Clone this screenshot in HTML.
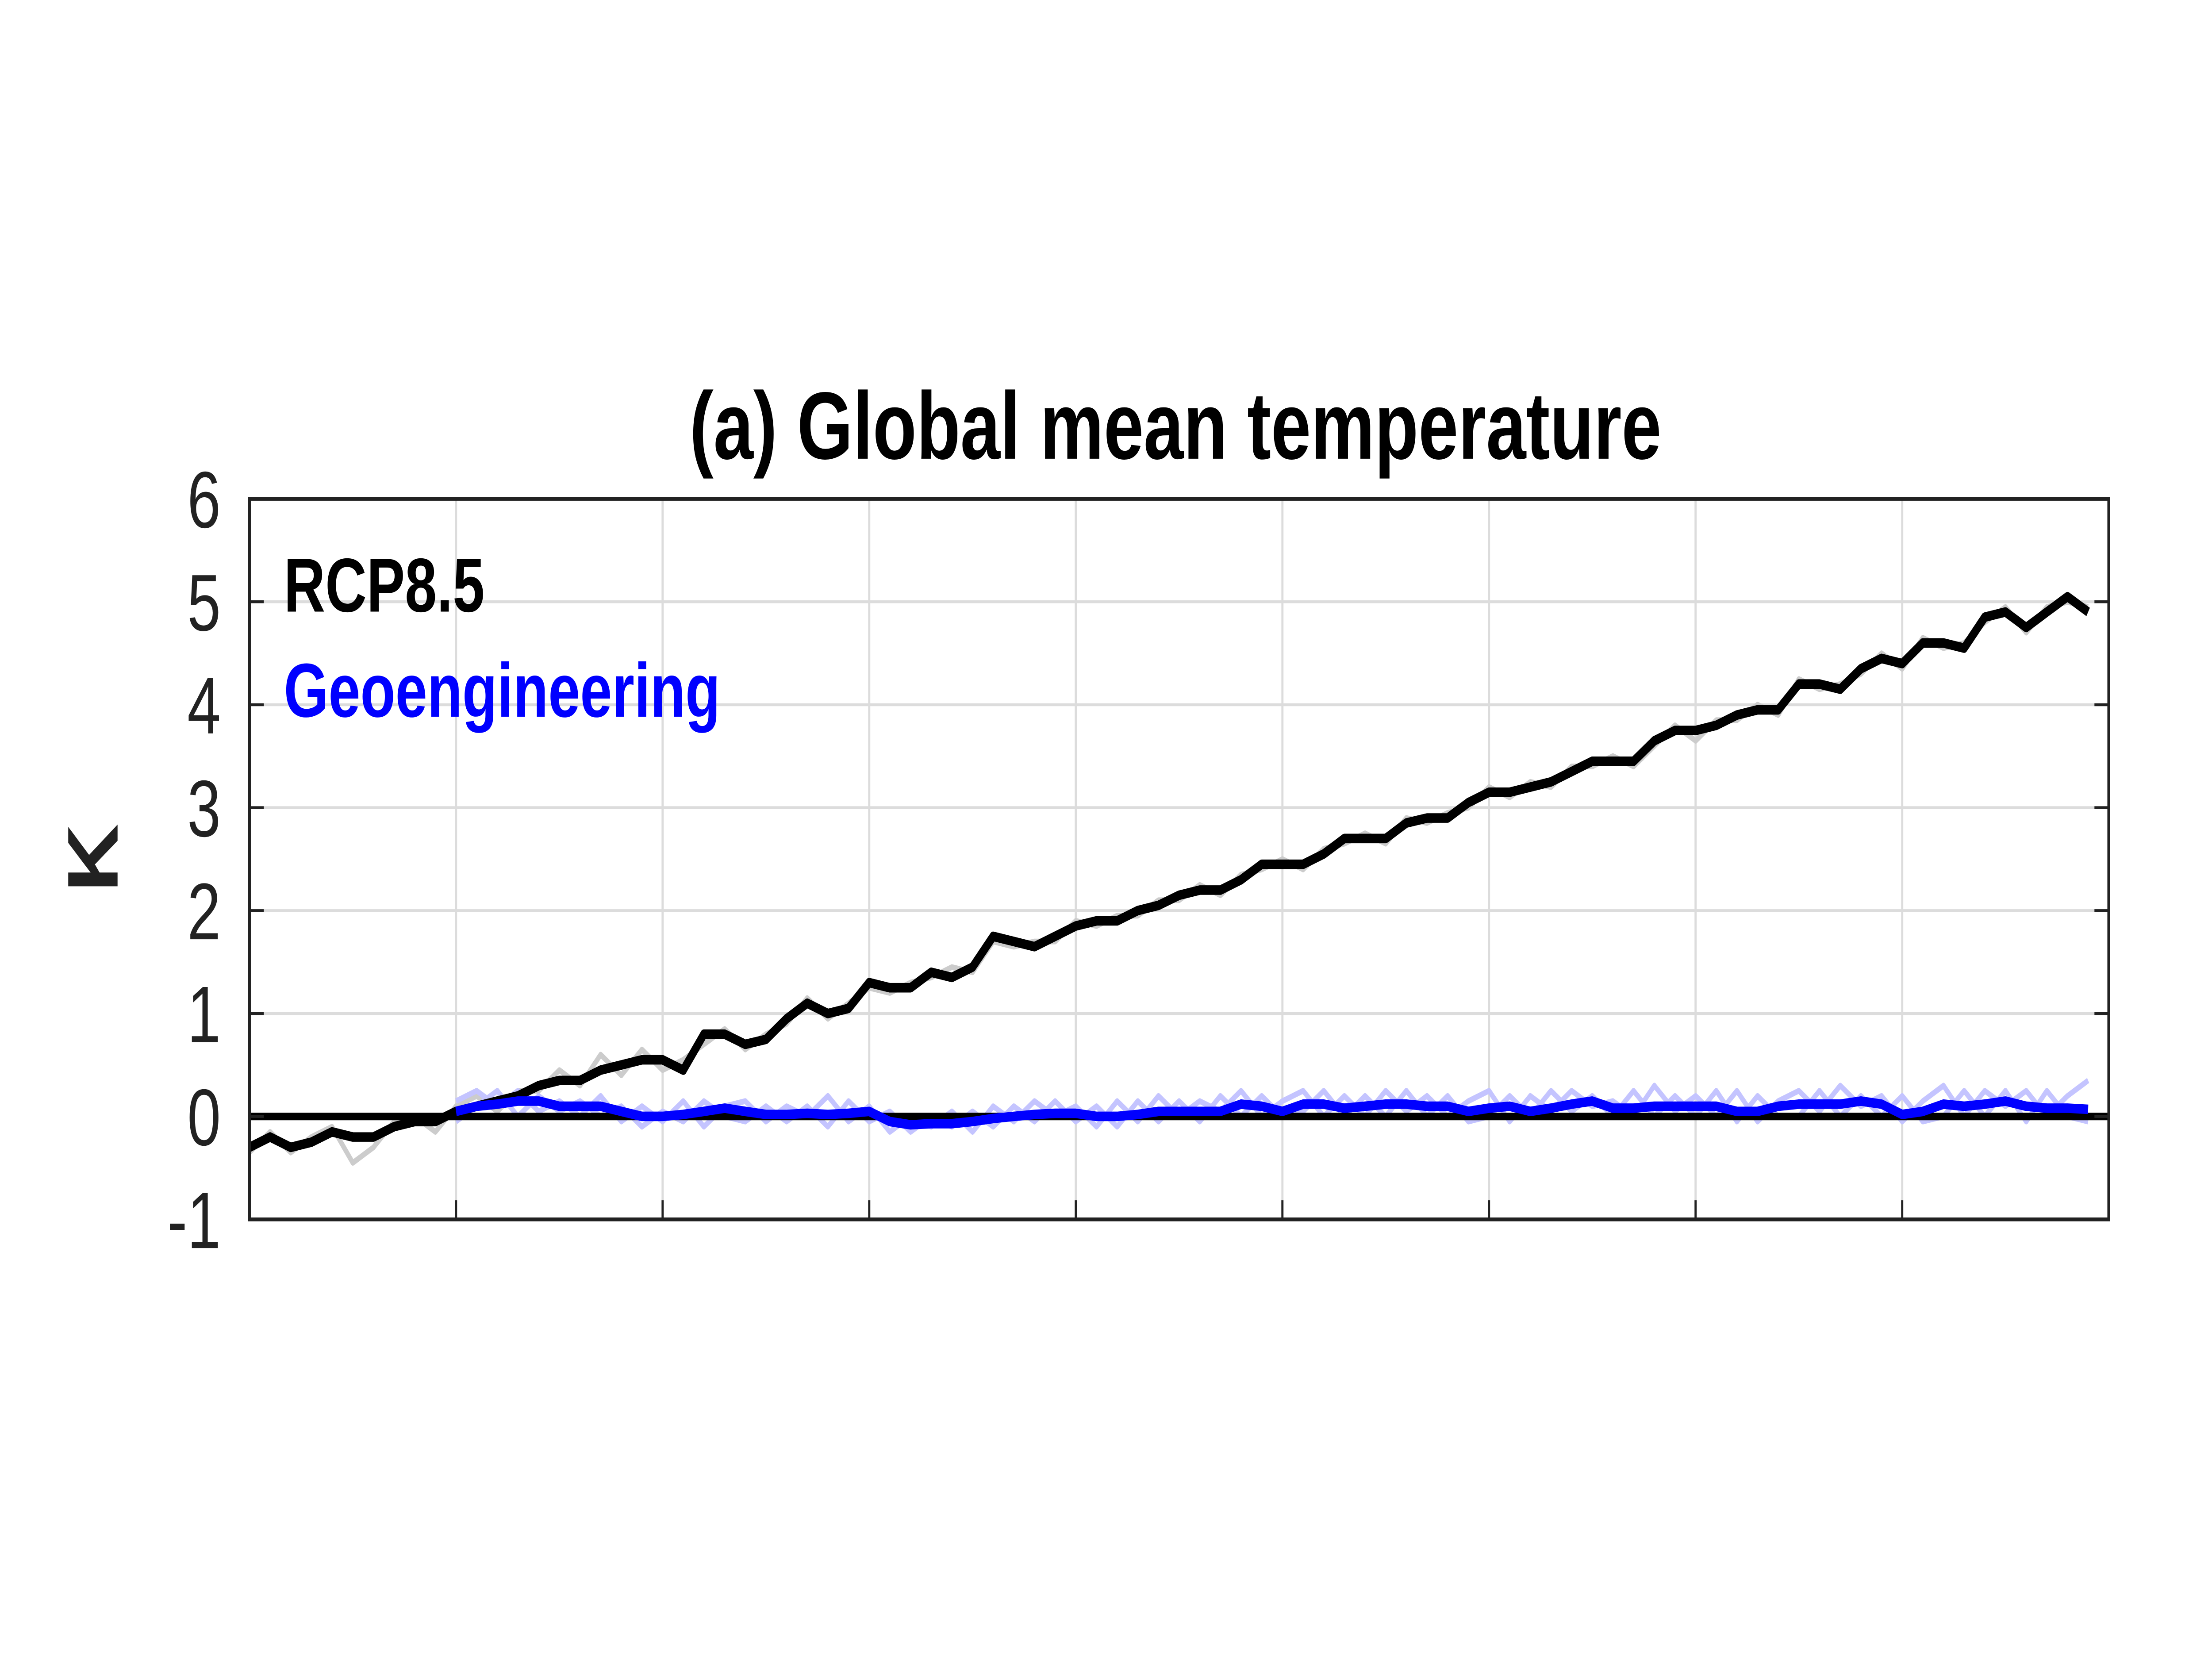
<!DOCTYPE html>
<html><head><meta charset="utf-8">
<style>
html,body{margin:0;padding:0;background:#fff;width:100%;height:100%;overflow:hidden;}
svg{display:block;width:100vw;height:100vh;}
text{font-family:"Liberation Sans",Arial,sans-serif;}
</style></head>
<body>
<svg id="chart" viewBox="0 0 1543 868" preserveAspectRatio="none" xmlns="http://www.w3.org/2000/svg">
<rect x="0" y="0" width="1543" height="868" fill="#fff"/>
<text x="820" y="240" text-anchor="middle" font-size="50" font-weight="bold" fill="#000">(a) Global mean temperature</text>
<g id="grid"></g>
<g id="series"></g>
<g id="axes"></g>
<text x="82" y="449" text-anchor="middle" font-size="50" font-weight="bold" fill="#222" transform="rotate(-90 82 449)">K</text>
<text x="198" y="320" font-size="40" font-weight="bold" fill="#000">RCP8.5</text>
<text x="198" y="375" font-size="40" font-weight="bold" fill="#0000ff">Geoengineering</text>
</svg>
<script>
const yTicks = [-1,0,1,2,3,4,5,6];
const yTickLabels = ["-1","0","1","2","3","4","5","6"];
const xGrid = [10,20,30,40,50,60,70,80];
const rcp85 = [-0.3,-0.2,-0.3,-0.25,-0.15,-0.2,-0.2,-0.1,-0.05,-0.05,0.05,0.1,0.15,0.2,0.3,0.35,0.35,0.45,0.5,0.55,0.55,0.45,0.8,0.8,0.7,0.75,0.95,1.1,1.0,1.05,1.3,1.25,1.25,1.4,1.35,1.45,1.75,1.7,1.65,1.75,1.85,1.9,1.9,2.0,2.05,2.15,2.2,2.2,2.3,2.45,2.45,2.45,2.55,2.7,2.7,2.7,2.85,2.9,2.9,3.05,3.15,3.15,3.2,3.25,3.35,3.45,3.45,3.45,3.65,3.75,3.75,3.8,3.9,3.95,3.95,4.2,4.2,4.15,4.35,4.45,4.4,4.6,4.6,4.55,4.85,4.9,4.75,4.9,5.05,4.9];
const rcp85Member = [-0.35,-0.15,-0.35,-0.2,-0.1,-0.45,-0.3,-0.05,0.0,-0.15,0.1,0.2,0.05,0.25,0.25,0.45,0.3,0.6,0.4,0.65,0.45,0.55,0.7,0.85,0.65,0.8,0.9,1.15,0.95,1.1,1.25,1.2,1.3,1.35,1.45,1.4,1.7,1.65,1.7,1.7,1.9,1.85,1.95,1.95,2.1,2.1,2.25,2.15,2.35,2.4,2.5,2.4,2.6,2.65,2.75,2.65,2.9,2.85,2.95,3.0,3.2,3.1,3.25,3.2,3.4,3.4,3.5,3.4,3.6,3.8,3.65,3.85,3.85,4.0,3.9,4.25,4.15,4.2,4.3,4.5,4.35,4.65,4.55,4.6,4.8,4.95,4.7,4.95,5.0,4.95];
const geoStart = 10;
const geo = [0.05,0.1,0.12,0.15,0.15,0.1,0.1,0.1,0.05,0.0,0.0,0.02,0.05,0.08,0.05,0.02,0.02,0.03,0.02,0.03,0.05,-0.05,-0.08,-0.07,-0.07,-0.05,-0.02,0.0,0.02,0.03,0.03,0.0,0.0,0.02,0.05,0.05,0.05,0.05,0.12,0.1,0.05,0.12,0.12,0.08,0.1,0.12,0.12,0.1,0.1,0.05,0.08,0.1,0.05,0.08,0.12,0.15,0.08,0.08,0.1,0.1,0.1,0.1,0.05,0.05,0.1,0.12,0.12,0.12,0.15,0.12,0.02,0.05,0.12,0.1,0.12,0.15,0.1,0.08,0.08,0.07];
const geoMemberA = [0.15,0.25,0.1,0.25,0.05,0.15,0.0,0.2,-0.05,0.1,-0.05,0.15,-0.1,0.1,0.15,-0.05,0.1,0.0,0.2,-0.05,0.1,-0.15,0.0,-0.1,0.05,-0.15,0.1,-0.05,0.15,0.0,0.1,-0.1,0.15,-0.05,0.2,0.0,0.15,0.05,0.25,0.0,0.15,0.25,0.0,0.2,0.0,0.25,0.05,0.2,0.0,0.15,0.25,-0.05,0.2,0.05,0.25,0.1,0.15,0.0,0.3,0.05,0.2,0.0,0.25,-0.05,0.15,0.25,0.05,0.3,0.1,0.2,-0.05,0.15,0.3,0.0,0.25,0.1,0.25,0.0,0.2,0.35];
const geoMemberB = [-0.05,0.1,0.25,0.0,0.2,0.05,0.15,0.0,0.1,-0.1,0.05,-0.05,0.15,0.0,-0.05,0.1,-0.05,0.1,-0.1,0.15,-0.05,0.05,-0.15,0.0,-0.1,0.05,-0.1,0.1,-0.05,0.15,-0.05,0.1,-0.1,0.15,-0.05,0.15,-0.05,0.2,0.0,0.2,0.0,0.05,0.25,0.0,0.2,0.0,0.25,0.0,0.2,-0.05,0.0,0.2,0.0,0.25,0.05,0.2,0.0,0.25,0.0,0.2,0.0,0.25,-0.05,0.2,0.0,0.0,0.25,0.0,0.2,0.0,0.2,-0.05,0.0,0.25,0.0,0.25,-0.05,0.25,0.0,-0.05];

const L=174,R=1471,T=261,B=638,XMIN=0,XMAX=90,YMIN=-1,YMAX=6;
const xs=v=>L+(v-XMIN)/(XMAX-XMIN)*(R-L);
const ys=v=>B-(v-YMIN)/(YMAX-YMIN)*(B-T);
const NS="http://www.w3.org/2000/svg";
function mk(tag,attrs,parent){const e=document.createElementNS(NS,tag);for(const k in attrs)e.setAttribute(k,attrs[k]);parent.appendChild(e);return e;}
const grid=document.getElementById('grid'),series=document.getElementById('series'),axes=document.getElementById('axes');
xGrid.forEach(g=>{const l=mk('line',{x1:xs(g),x2:xs(g),y1:T,y2:B,stroke:'#dcdcdc','stroke-width':1.5},grid);


const t=mk('line',{x1:xs(g),x2:xs(g),y1:B,y2:B-10,stroke:'#222','stroke-width':1.5},axes);

});
yTicks.forEach((v,i)=>{const l=mk('line',{x1:L,x2:R,y1:ys(v),y2:ys(v),stroke:'#dcdcdc','stroke-width':1.5},grid);


const tk=mk('line',{x1:L,x2:L+10,y1:ys(v),y2:ys(v),stroke:'#222','stroke-width':1.5},axes);


const tk2=mk('line',{x1:R,x2:R-10,y1:ys(v),y2:ys(v),stroke:'#222','stroke-width':1.5},axes);


const t=mk('text',{x:L-20,y:ys(v)+15,'text-anchor':'end','font-size':42,fill:'#222'},axes);
t.textContent=yTickLabels[i];

});
const box=mk('rect',{x:L,y:T,width:R-L,height:B-T,fill:'none',stroke:'#222','stroke-width':2},axes);


function path(arr,start,color,w,name){const d=arr.map((v,i)=>(i?'L':'M')+xs(start+i).toFixed(1)+' '+ys(v).toFixed(1)).join(' ');
const p=mk('path',{d:d,fill:'none',stroke:color,'stroke-width':w,'stroke-linejoin':'round'},series);

}
path(rcp85Member,0,'#cccccc',3,'rcp85-ensemble-member');
path(geoMemberA,geoStart,'#c4c4ff',3,'geo-ensemble-member-a');
path(geoMemberB,geoStart,'#c4c4ff',3,'geo-ensemble-member-b');
const z=mk('line',{x1:L,x2:R,y1:ys(0),y2:ys(0),stroke:'#000','stroke-width':4},series);


path(rcp85,0,'#000',5,'rcp85-line');
path(geo,geoStart,'#0000ff',5,'geoengineering-line');
</script>
</body></html>
